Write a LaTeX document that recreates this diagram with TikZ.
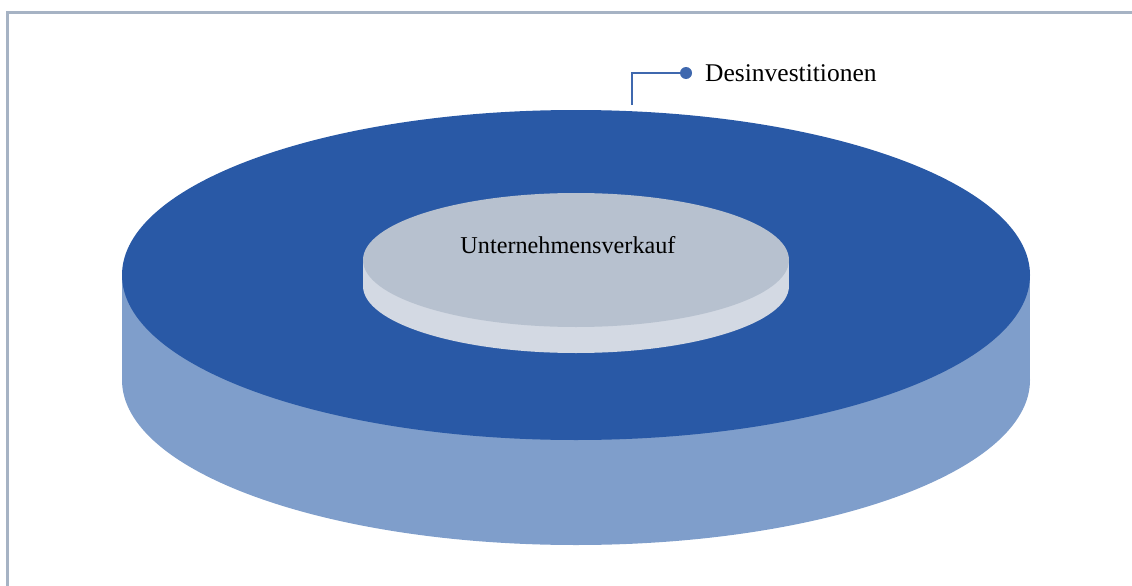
\documentclass[tikz,border=0pt]{standalone}
\usepackage{fontspec}
\setmainfont{Liberation Serif}
\definecolor{frameline}{HTML}{A6B3C4}
\definecolor{outertop}{HTML}{2959A6}
\definecolor{outerside}{HTML}{7F9ECB}
\definecolor{innertop}{HTML}{B7C1CF}
\definecolor{innerside}{HTML}{D3D9E3}
\definecolor{leader}{HTML}{3F68AE}
\tikzset{
  framestroke/.style={draw=frameline, line width=3pt},
  leaderline/.style={draw=leader, line width=1.4pt},
  dotnode/.style={circle, fill=leader, inner sep=0pt, minimum size=12pt},
  labeltext/.style={font=\fontsize{25.5}{28}\selectfont, text=black, inner sep=0pt}
}
\begin{document}
\begin{tikzpicture}[x=1pt, y=-1pt]
  \useasboundingbox (0,0) rectangle (1132,586);
  % frame (top and left edges)
  \draw[framestroke] (7,586) -- (7,13) -- (1132,13);

  % outer disk: side, then top face
  \fill[outerside] (576,380) ellipse [x radius=454, y radius=165];
  \fill[outerside] (122,275) rectangle (1030,380);
  \fill[outertop] (576,275) ellipse [x radius=454, y radius=165];

  % inner disk: side, then top face
  \fill[innerside] (576,286) ellipse [x radius=213, y radius=67];
  \fill[innerside] (363,260) rectangle (789,286);
  \fill[innertop] (576,260) ellipse [x radius=213, y radius=67];

  \node[labeltext, font=\fontsize{24.2}{28}\selectfont] (inner) at (568,245) {Unternehmensverkauf};

  % leader line with end dot and label
  \coordinate (rim) at (632,105);
  \node[dotnode] (dot) at (686,73) {};
  \node[labeltext, anchor=west] (outer) at (705,73) {Desinvestitionen};
  \draw[leaderline] (rim) |- (dot.center);
\end{tikzpicture}
\end{document}
